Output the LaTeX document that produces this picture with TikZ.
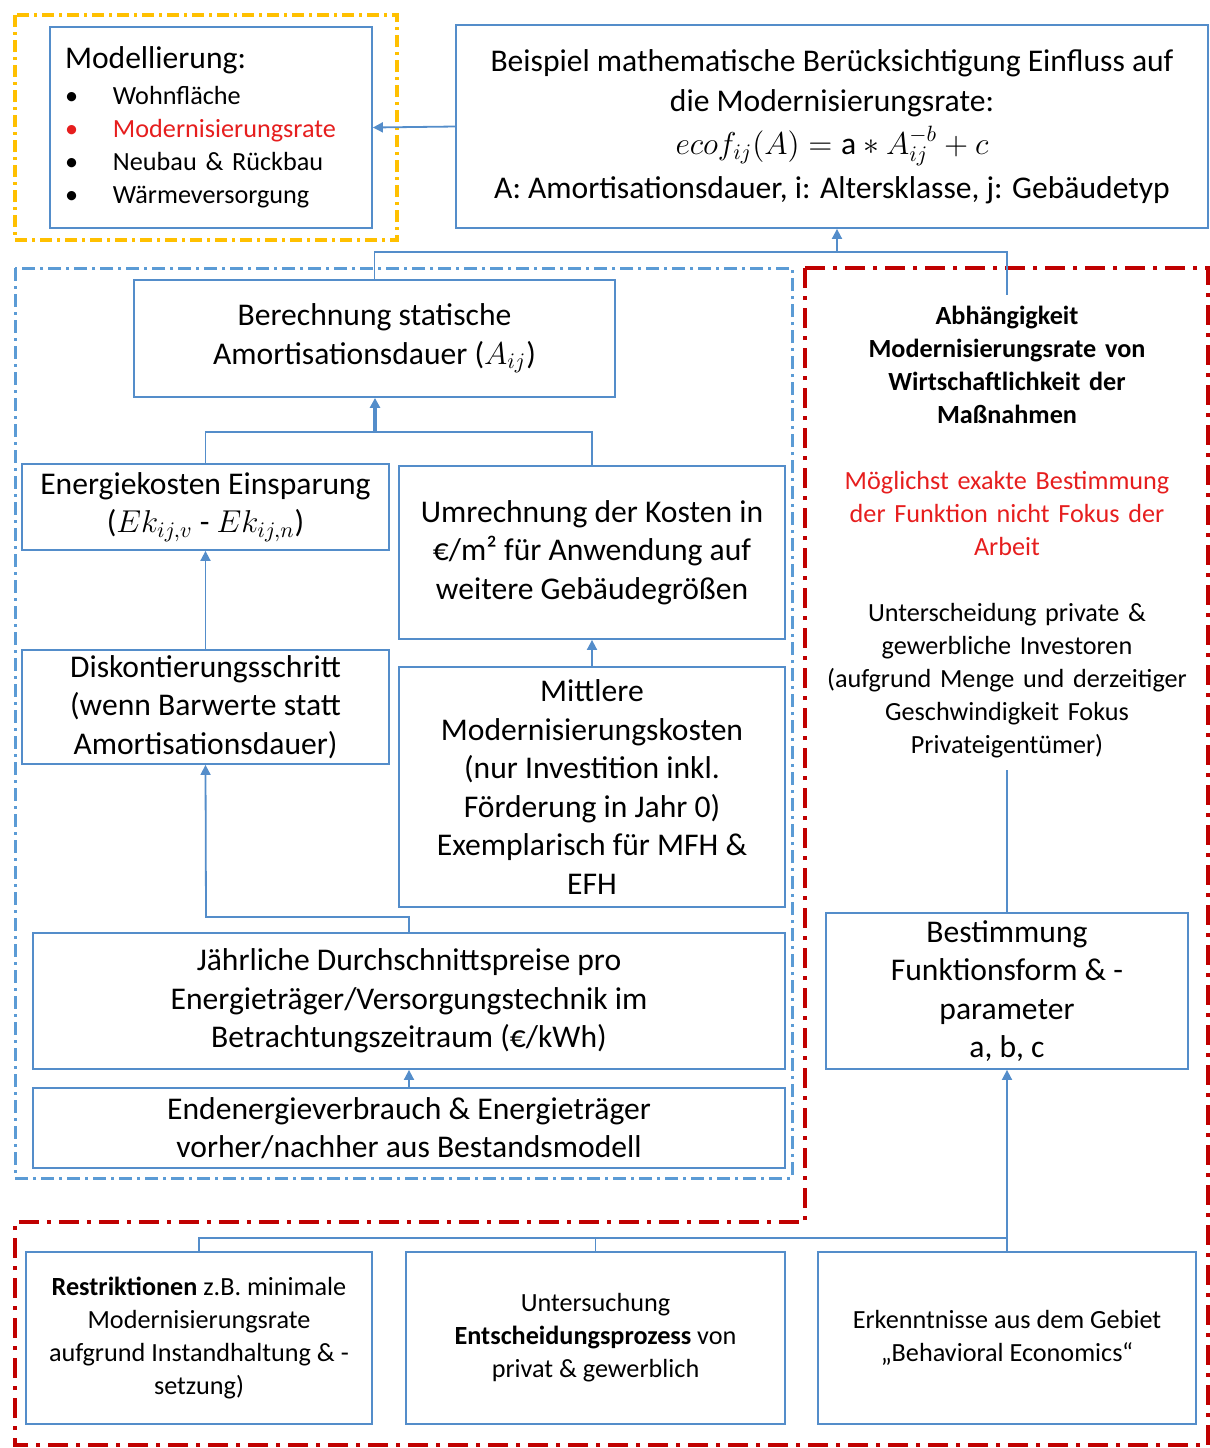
\RequirePackage{fix-cm}
\documentclass[tikz,border=0pt]{standalone}
\usepackage{fontspec}
\setmainfont{Carlito}
\usetikzlibrary{arrows.meta}
\definecolor{boxblue}{RGB}{84,141,202}
\definecolor{frameblue}{RGB}{91,155,213}
\definecolor{frameyellow}{RGB}{255,192,0}
\definecolor{framered}{RGB}{192,0,0}
\definecolor{redtext}{RGB}{230,30,30}

\begin{document}
\begin{tikzpicture}[x=0.5pt,y=-0.5pt,
  box/.style={draw=boxblue,line width=0.9pt,fill=white,align=center,inner sep=0pt,
    font=\fontsize{15.8}{19.25}\selectfont},
  small/.style={font=\fontsize{13.1}{16.5}\selectfont},
  conn/.style={draw=boxblue,line width=0.9pt},
  yframe/.style={draw=frameyellow,line width=2pt,dash pattern=on 6pt off 2.5pt on 1.5pt off 2.5pt},
  bframe/.style={draw=frameblue,line width=1.5pt,dash pattern=on 6.5pt off 2.5pt on 1.5pt off 2.5pt},
  rframe/.style={draw=framered,line width=1.8pt,dash pattern=on 10pt off 4pt on 2pt off 4pt},
  >={Triangle[length=5pt,width=5pt]}]
\useasboundingbox (0,0) rectangle (1210,1448);

% frames
\draw[yframe] (15,15) rectangle (397,240);
\draw[bframe] (15,268) rectangle (792,1178);
\draw[rframe] (805,268) -- (1208,268) -- (1208,1445) -- (15,1445) -- (15,1222) -- (805,1222) -- cycle;

% top row
\node[box,small,minimum width=161pt,minimum height=100.5pt,align=left,text width=146pt] (mod) at (211,127.5)
  {{\fontsize{15.8}{20}\selectfont Modellierung:}\\[1.5pt]
   \makebox[24pt][l]{\textbullet}Wohnfläche\\
   \textcolor{redtext}{\makebox[24pt][l]{\textbullet}Modernisierungsrate}\\
   \makebox[24pt][l]{\textbullet}Neubau \& Rückbau\\
   \makebox[24pt][l]{\textbullet}Wärmeversorgung};
\node[box,minimum width=376pt,minimum height=101.5pt,font=\fontsize{15.8}{20}\selectfont] (bsp) at (832,126.5)
  {Beispiel mathematische Berücksichtigung Einfluss auf\\
   die Modernisierungsrate:\\[1.5pt]
   $ecof_{ij}(A)=\mathrm{a}\ast A_{ij}^{-b}+c$\\[2pt]
   A: Amortisationsdauer, i: Altersklasse, j: Gebäudetyp};

% left column
\node[box,minimum width=240.5pt,minimum height=58.5pt] (ber) at (374.5,338.5)
  {Berechnung statische\\Amortisationsdauer ($A_{ij}$)};
\node[box,minimum width=183.5pt,minimum height=43pt] (ek) at (205.5,507)
  {Energiekosten Einsparung\\($Ek_{ij,v}$ - $Ek_{ij,n}$)};
\node[box,minimum width=193pt,minimum height=86.5pt] (um) at (592,552.5)
  {Umrechnung der Kosten in\\€/m² für Anwendung auf\\weitere Gebäudegrößen};
\node[box,minimum width=183.5pt,minimum height=57pt] (disk) at (205.5,707)
  {Diskontierungsschritt\\(wenn Barwerte statt\\Amortisationsdauer)};
\node[box,minimum width=193pt,minimum height=120pt] (mit) at (592,787)
  {Mittlere\\Modernisierungskosten\\(nur Investition inkl.\\Förderung in Jahr 0)\\Exemplarisch für MFH \&\\EFH};
\node[box,minimum width=376pt,minimum height=68pt] (jahr) at (409,1001)
  {Jährliche Durchschnittspreise pro\\Energieträger/Versorgungstechnik im\\Betrachtungszeitraum (€/kWh)};
\node[box,minimum width=376pt,minimum height=40pt] (end) at (409,1128)
  {Endenergieverbrauch \& Energieträger\\vorher/nachher aus Bestandsmodell};

% right column
\node[small,align=center,inner sep=0pt,minimum height=237.5pt,text width=190pt] (abh) at (1007,532.5)
  {\textbf{Abhängigkeit}\\\textbf{Modernisierungsrate von}\\\textbf{Wirtschaftlichkeit der}\\\textbf{Maßnahmen}\\[16.5pt]
   \textcolor{redtext}{Möglichst exakte Bestimmung}\\\textcolor{redtext}{der Funktion nicht Fokus der}\\\textcolor{redtext}{Arbeit}\\[16.5pt]
   Unterscheidung private \&\\gewerbliche Investoren\\(aufgrund Menge und derzeitiger\\Geschwindigkeit Fokus\\Privateigentümer)};
\node[box,minimum width=181pt,minimum height=78pt] (best) at (1007,991)
  {Bestimmung\\Funktionsform \& -\\parameter\\a, b, c};

% bottom row
\node[box,small,minimum width=173pt,minimum height=86pt] (res) at (199,1338)
  {\textbf{Restriktionen} z.B. minimale\\Modernisierungsrate\\aufgrund Instandhaltung \& -\\setzung)};
\node[box,small,minimum width=189.5pt,minimum height=86pt] (unt) at (595.5,1338)
  {Untersuchung\\\textbf{Entscheidungsprozess} von\\privat \& gewerblich};
\node[box,small,minimum width=189pt,minimum height=86pt] (erk) at (1007,1338)
  {Erkenntnisse aus dem Gebiet\\„Behavioral Economics“};

% connectors
\coordinate (j1) at (837,252);
\coordinate (j2) at (375,432);
\coordinate (j3) at (206,917);
\coordinate (j4) at (1007,1238);
\draw[conn,->] (bsp.west) -- (mod.east);
\draw[conn] (ber.north) |- (j1) -| (abh.north);
\draw[conn,->] (j1) -- (bsp.south -| j1);
\draw[conn] (ek.north) |- (j2) -| (um.north);
\draw[conn,->,line width=1.6pt] (j2) -- (ber.south -| j2);
\draw[conn,->] (disk.north) -- (ek.south);
\draw[conn,->] (mit.north) -- (um.south);
\draw[conn,->] (jahr.north) |- (j3) -- (disk.south);
\draw[conn,->] (end.north) -- (jahr.south);
\draw[conn] (abh.south) -- (best.north);
\draw[conn] (res.north) |- (j4);
\draw[conn] (unt.north) |- (j4);
\draw[conn] (erk.north) -- (j4);
\draw[conn,->] (j4) -- (best.south);
\end{tikzpicture}
\end{document}
